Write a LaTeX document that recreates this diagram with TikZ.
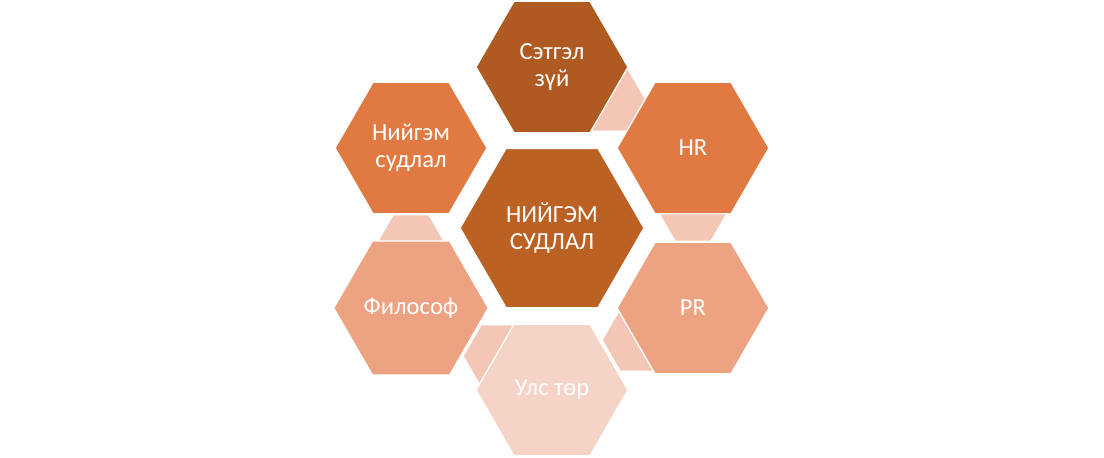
\documentclass[tikz,border=0pt]{standalone}
\usepackage{fontspec}
\setmainfont{Carlito}
\usetikzlibrary{shapes.geometric}
\definecolor{hexdark}{HTML}{AE5A21}
\definecolor{hexcore}{HTML}{BB6123}
\definecolor{hexmid}{HTML}{E07A42}
\definecolor{hexlight}{HTML}{EDA282}
\definecolor{hexpale}{HTML}{F6D3C7}
\definecolor{hexlink}{HTML}{F4C6B5}

\begin{document}
\begin{tikzpicture}[x=0.02cm, y=-0.02cm,
  hexbox/.style={regular polygon, regular polygon sides=6, minimum size=3.04cm, inner sep=0pt, draw=white, line width=0.75pt, text=white, align=center, font=\fontsize{14}{15.4}\selectfont},
  corehex/.style={hexbox, minimum size=3.68cm},
  linkhex/.style={regular polygon, regular polygon sides=6, minimum size=1.44cm, inner sep=0pt, fill=hexlink, draw=white, line width=0.75pt},
]
  \useasboundingbox (0,0) rectangle (1104,457);
  % small hexagons between neighbours, drawn first
  \node[linkhex] (c1) at (610,100) {};
  \node[linkhex] (c2) at (693,210) {};
  \node[linkhex] (c3) at (638,340) {};
  \node[linkhex] (c4) at (499,356) {};
  \node[linkhex] (c5) at (411,246) {};
  % centre and outer ring
  \node[corehex, fill=hexcore] (core) at (552,228) {НИЙГЭМ\\СУДЛАЛ};
  \node[hexbox, fill=hexdark] (psy) at (552,67) {Сэтгэл\\зүй};
  \node[hexbox, fill=hexmid] (hr) at (693,148) {HR};
  \node[hexbox, fill=hexlight] (pr) at (693,308) {PR};
  \node[hexbox, fill=hexpale] (pol) at (552,390) {Улс төр};
  \node[hexbox, fill=hexlight] (phil) at (411,308) {Философ};
  \node[hexbox, fill=hexmid] (soc) at (411,148) {Нийгэм\\судлал};
\end{tikzpicture}
\end{document}
